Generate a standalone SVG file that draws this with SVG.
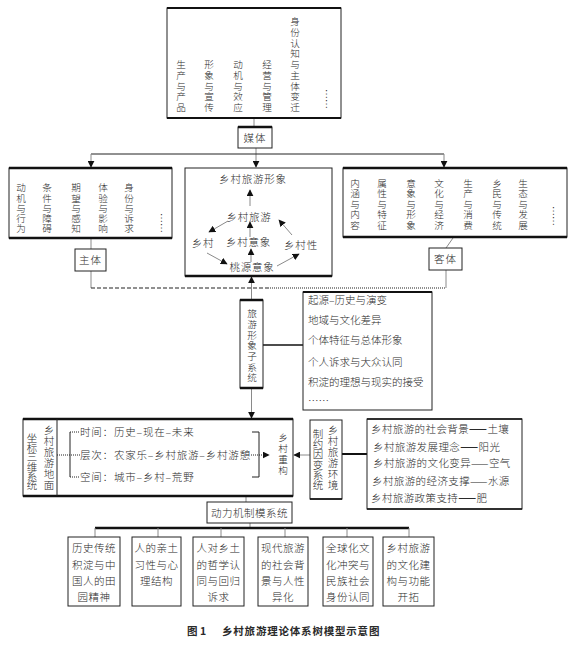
<svg xmlns="http://www.w3.org/2000/svg" width="584" height="647" viewBox="0 0 584 647">
<style>
text{font-family:"Noto Sans CJK SC","Noto Sans",sans-serif;fill:#2a2a2a;font-size:10.5px;font-weight:300}
.c{text-anchor:middle}
.v{font-size:9.6px}
.box{fill:#fff;stroke:#222;stroke-width:1}
.thk{stroke:#111;stroke-width:2.5;fill:none}
.ln{stroke:#222;stroke-width:1;fill:none}
.con{stroke:#8a8a8a;stroke-width:1;fill:none}
.vd{writing-mode:vertical-rl;font-size:10px}
.b{font-weight:bold}
</style>
<defs>
<marker id="ah" viewBox="0 0 10 10" refX="9" refY="5" markerWidth="7" markerHeight="7" markerUnits="userSpaceOnUse" orient="auto">
<path d="M0,0 L10,5 L0,10 z" fill="#111"/>
</marker>
</defs>
<rect width="584" height="647" fill="#fff"/>

<g id="connectors">
<line class="con" x1="254" y1="118" x2="254" y2="127"/>
<line class="con" x1="256" y1="148" x2="256" y2="167" marker-end="url(#ah)"/>
<line class="ln" x1="91" y1="154" x2="444" y2="154"/>
<line class="con" x1="91" y1="154" x2="91" y2="167" marker-end="url(#ah)"/>
<line class="con" x1="444" y1="154" x2="444" y2="167" marker-end="url(#ah)"/>
<line class="con" x1="91" y1="239" x2="91" y2="249"/>
<line class="con" x1="91" y1="271" x2="91" y2="288"/>
<line class="con" x1="453" y1="238" x2="446" y2="248"/>
<line class="con" x1="446" y1="270" x2="446" y2="288"/>
<line x1="91" y1="288" x2="270" y2="288" stroke="#222" stroke-width="1.2" stroke-dasharray="4 2"/>
<line x1="270" y1="288" x2="446" y2="288" stroke="#222" stroke-width="1.2" stroke-dasharray="1 1"/>
<line class="con" x1="251.5" y1="300" x2="251.5" y2="277" marker-end="url(#ah)"/>
<line x1="263" y1="345" x2="303" y2="345" stroke="#111" stroke-width="1.5"/>
<line class="con" x1="251.5" y1="388" x2="251.5" y2="418" marker-end="url(#ah)"/>
<line class="con" x1="310" y1="455" x2="294" y2="455" marker-end="url(#ah)"/>
<line x1="342" y1="454" x2="367" y2="454" stroke="#111" stroke-width="2"/>
<line class="con" x1="246" y1="496" x2="246" y2="502"/>
<line class="con" x1="250" y1="523" x2="250" y2="528"/>
<line class="thk" x1="95" y1="528" x2="409" y2="528"/>
<line class="con" x1="95" y1="528" x2="95" y2="537"/>
<line class="con" x1="158" y1="528" x2="158" y2="537"/>
<line class="con" x1="221" y1="528" x2="221" y2="537"/>
<line class="con" x1="285" y1="528" x2="285" y2="537"/>
<line class="con" x1="347" y1="528" x2="347" y2="537"/>
<line class="con" x1="409" y1="528" x2="409" y2="537"/>
</g>

<g id="top-box">
<rect class="box" x="167" y="8" width="174" height="110"/>
<line x1="167" y1="8" x2="341" y2="8" stroke="#111" stroke-width="1.8"/>
<line x1="167" y1="118" x2="341" y2="118" stroke="#111" stroke-width="1.8"/>
<text class="c v" x="181 181 181 181 181" y="68 79 89.5 100 111">生产与产品</text>
<text class="c v" x="209 209 209 209 209" y="68 79 89.5 100 111">形象与宣传</text>
<text class="c v" x="238 238 238 238 238" y="68 79 89.5 100 111">动机与效应</text>
<text class="c v" x="267 267 267 267 267" y="68 79 89.5 100 111">经营与管理</text>
<text class="c v" x="295 295 295 295 295 295 295 295 295" y="25 35.75 46.5 57.25 68 78.75 89.5 100.25 111">身份认知与主体变迁</text>
<text class="vd" x="326" y="89">……</text>
</g>

<g id="meiti">
<rect class="box" x="238" y="127" width="34" height="21"/>
<line x1="238" y1="127" x2="272" y2="127" stroke="#111" stroke-width="2.5"/>
<text class="c" x="255" y="141.5" font-size="11" letter-spacing="1">媒体</text>
</g>

<g id="left-box">
<rect class="box" x="9" y="168" width="163" height="70"/>
<line class="thk" x1="9" y1="168" x2="172" y2="168"/>
<line class="thk" x1="9" y1="238" x2="172" y2="238"/>
<text class="c v" x="21 21 21 21 21" y="191 201.5 211.5 222 232">动机与行为</text>
<text class="c v" x="47 47 47 47 47" y="191 201.5 211.5 222 232">条件与障碍</text>
<text class="c v" x="76 76 76 76 76" y="191 201.5 211.5 222 232">期望与感知</text>
<text class="c v" x="103 103 103 103 103" y="191 201.5 211.5 222 232">体验与影响</text>
<text class="c v" x="129 129 129 129 129" y="191 201.5 211.5 222 232">身份与诉求</text>
<text class="vd" x="161" y="213">……</text>
</g>

<g id="zhuti">
<rect class="box" x="75" y="249" width="31" height="22"/>
<text class="c" x="90.5" y="264" font-size="11" letter-spacing="1">主体</text>
</g>

<g id="middle-box">
<rect class="box" x="185" y="168" width="147" height="108"/>
<line class="thk" x1="185" y1="276" x2="332" y2="276"/>
<text class="c" x="253" y="183" letter-spacing="0.8">乡村旅游形象</text>
<text class="c" x="249" y="221" letter-spacing="0.8">乡村旅游</text>
<text class="c" x="203" y="247" letter-spacing="0.8">乡村</text>
<text class="c" x="248.5" y="246" letter-spacing="0.8">乡村意象</text>
<text class="c" x="301" y="249" letter-spacing="0.8">乡村性</text>
<text class="c" x="252" y="271" letter-spacing="0.8">桃源意象</text>
<g class="con">
<line x1="250" y1="206" x2="250" y2="190" marker-end="url(#ah)"/>
<line x1="228" y1="221" x2="209" y2="232" marker-end="url(#ah)"/>
<line x1="250" y1="237" x2="250" y2="222" marker-end="url(#ah)"/>
<line x1="292" y1="235" x2="279" y2="220" marker-end="url(#ah)"/>
<line x1="207" y1="253" x2="227" y2="264" marker-end="url(#ah)"/>
<line x1="251" y1="262" x2="251" y2="249" marker-end="url(#ah)"/>
<line x1="277" y1="266" x2="299" y2="254" marker-end="url(#ah)"/>
</g>
</g>

<g id="right-box">
<rect class="box" x="343" y="168" width="224" height="69"/>
<line class="thk" x1="343" y1="168" x2="567" y2="168"/>
<line class="thk" x1="343" y1="237" x2="567" y2="237"/>
<text class="c v" x="355 355 355 355 355" y="186.5 197 207.5 218 228.5">内涵与内容</text>
<text class="c v" x="382 382 382 382 382" y="186.5 197 207.5 218 228.5">属性与特征</text>
<text class="c v" x="411 411 411 411 411" y="186.5 197 207.5 218 228.5">意象与形象</text>
<text class="c v" x="439 439 439 439 439" y="186.5 197 207.5 218 228.5">文化与经济</text>
<text class="c v" x="468 468 468 468 468" y="186.5 197 207.5 218 228.5">生产与消费</text>
<text class="c v" x="497 497 497 497 497" y="186.5 197 207.5 218 228.5">乡民与传统</text>
<text class="c v" x="523 523 523 523 523" y="186.5 197 207.5 218 228.5">生态与发展</text>
<text class="vd" x="553" y="206">……</text>
</g>

<g id="keti">
<rect class="box" x="429" y="248" width="33" height="22"/>
<text class="c" x="445.5" y="263" font-size="11" letter-spacing="1">客体</text>
</g>

<g id="image-subsystem">
<rect class="box" x="240" y="300" width="23" height="88"/>
<line class="thk" x1="240" y1="300" x2="263" y2="300"/>
<line class="thk" x1="240" y1="388" x2="263" y2="388"/>
<text class="c v" x="252 252 252 252 252 252 252" y="317 328 338.5 349 360 370.5 381">旅游形象子系统</text>
</g>

<g id="image-list">
<rect class="box" x="303" y="292" width="129" height="118"/>
<line x1="303" y1="292" x2="432" y2="292" stroke="#111" stroke-width="2"/>
<text x="308" y="304" font-size="11">起源–历史与演变</text>
<text x="308" y="324" font-size="11">地域与文化差异</text>
<text x="308" y="344" font-size="11">个体特征与总体形象</text>
<text x="308" y="366" font-size="11">个人诉求与大众认同</text>
<text x="308" y="386" font-size="11">积淀的理想与现实的接受</text>
<text x="308" y="405" font-size="11">……</text>
</g>

<g id="coord-box">
<rect class="box" x="23" y="419" width="270" height="77"/>
<line class="thk" x1="23" y1="419" x2="293" y2="419"/>
<line class="thk" x1="23" y1="496" x2="293" y2="496"/>
<line class="ln" x1="57" y1="419" x2="57" y2="496"/>
<text class="c" font-size="8.8" x="32 32 32 32 32 32" y="442 451.5 461 470.5 480 489">坐标三维系统</text>
<text class="c" font-size="9.6" x="49 49 49 49 49 49" y="434 445 456 467 478 489">乡村旅游地面</text>
<line class="ln" x1="70" y1="432" x2="70" y2="477"/>
<g stroke="#222" stroke-width="1" stroke-dasharray="1 1">
<line x1="70" y1="432" x2="80" y2="432"/>
<line x1="57" y1="455" x2="80" y2="455"/>
<line x1="70" y1="477" x2="80" y2="477"/>
</g>
<text x="80" y="436" font-size="10" letter-spacing="0.8">时间：历史–现在–未来</text>
<text x="80" y="459" font-size="10" letter-spacing="0.8">层次：农家乐–乡村旅游–乡村游憩</text>
<text x="80" y="481" font-size="10" letter-spacing="0.8">空间：城市–乡村–荒野</text>
<polyline class="ln" points="252,432 259,432 259,477 252,477"/>
<line x1="251" y1="455" x2="269" y2="455" stroke="#222" stroke-width="1" stroke-dasharray="1 1" marker-end="url(#ah)"/>
<text class="c v" x="283 283 283 283" y="441 452 463 474">乡村重构</text>
</g>

<g id="constraint-box">
<rect class="box" x="310" y="420" width="32" height="79"/>
<line x1="310" y1="499" x2="342" y2="499" stroke="#111" stroke-width="1.6"/>
<text class="c" font-size="9.4" x="318 318 318 318 318 318" y="437.5 448 458 468.5 478.5 489">制约因变系统</text>
<text class="c" font-size="9.6" x="333 333 333 333 333 333" y="434 445 456 467 478 489">乡村旅游环境</text>
</g>

<g id="env-list">
<rect class="box" x="367" y="419" width="155" height="90"/>
<line x1="367" y1="419" x2="522" y2="419" stroke="#111" stroke-width="1.6"/>
<line x1="367" y1="509" x2="522" y2="509" stroke="#111" stroke-width="1.6"/>
<text x="371" y="433" letter-spacing="0.4">乡村旅游的社会背景<tspan class="b">——</tspan>土壤</text>
<text x="373" y="451" letter-spacing="0.4">乡村旅游发展理念<tspan class="b">——</tspan>阳光</text>
<text x="373" y="467" letter-spacing="0.4">乡村旅游的文化变异——空气</text>
<text x="372" y="485" letter-spacing="0.4">乡村旅游的经济支撑——水源</text>
<text x="371" y="502" letter-spacing="0.4">乡村旅游政策支持<tspan class="b">——</tspan>肥</text>
</g>

<g id="dynamics">
<rect class="box" x="207" y="502" width="85" height="21"/>
<text class="c" x="249.5" y="517" letter-spacing="0.5">动力机制模系统</text>
</g>

<g id="b1">
<rect class="box" x="68" y="537" width="52" height="69"/>
<text class="c" x="94" y="552" letter-spacing="0.5">历史传统</text>
<text class="c" x="94" y="569" letter-spacing="0.5">积淀与中</text>
<text class="c" x="94" y="585" letter-spacing="0.5">国人的田</text>
<text class="c" x="94" y="601" letter-spacing="0.5">园精神</text>
</g>
<g id="b2">
<rect class="box" x="132" y="537" width="49" height="69"/>
<text class="c" x="156.5" y="552" letter-spacing="0.5">人的亲土</text>
<text class="c" x="156.5" y="569" letter-spacing="0.5">习性与心</text>
<text class="c" x="156.5" y="585" letter-spacing="0.5">理结构</text>
</g>
<g id="b3">
<rect class="box" x="193" y="537" width="51" height="69"/>
<text class="c" x="218.5" y="552" letter-spacing="0.5">人对乡土</text>
<text class="c" x="218.5" y="569" letter-spacing="0.5">的哲学认</text>
<text class="c" x="218.5" y="585" letter-spacing="0.5">同与回归</text>
<text class="c" x="218.5" y="601" letter-spacing="0.5">诉求</text>
</g>
<g id="b4">
<rect class="box" x="258" y="537" width="50" height="69"/>
<text class="c" x="283" y="552" letter-spacing="0.5">现代旅游</text>
<text class="c" x="283" y="569" letter-spacing="0.5">的社会背</text>
<text class="c" x="283" y="585" letter-spacing="0.5">景与人性</text>
<text class="c" x="283" y="601" letter-spacing="0.5">异化</text>
</g>
<g id="b5">
<rect class="box" x="323" y="537" width="50" height="69"/>
<text class="c" x="348" y="552" letter-spacing="0.5">全球化文</text>
<text class="c" x="348" y="569" letter-spacing="0.5">化冲突与</text>
<text class="c" x="348" y="585" letter-spacing="0.5">民族社会</text>
<text class="c" x="348" y="601" letter-spacing="0.5">身份认同</text>
</g>
<g id="b6">
<rect class="box" x="383" y="537" width="51" height="69"/>
<text class="c" x="408.5" y="552" letter-spacing="0.5">乡村旅游</text>
<text class="c" x="408.5" y="569" letter-spacing="0.5">的文化建</text>
<text class="c" x="408.5" y="585" letter-spacing="0.5">构与功能</text>
<text class="c" x="408.5" y="601" letter-spacing="0.5">开拓</text>
</g>

<g id="caption">
<text x="187" y="635" font-size="11" class="b">图 1</text>
<text x="222" y="635" font-size="11" class="b" letter-spacing="0.8">乡村旅游理论体系树模型示意图</text>
</g>
</svg>
